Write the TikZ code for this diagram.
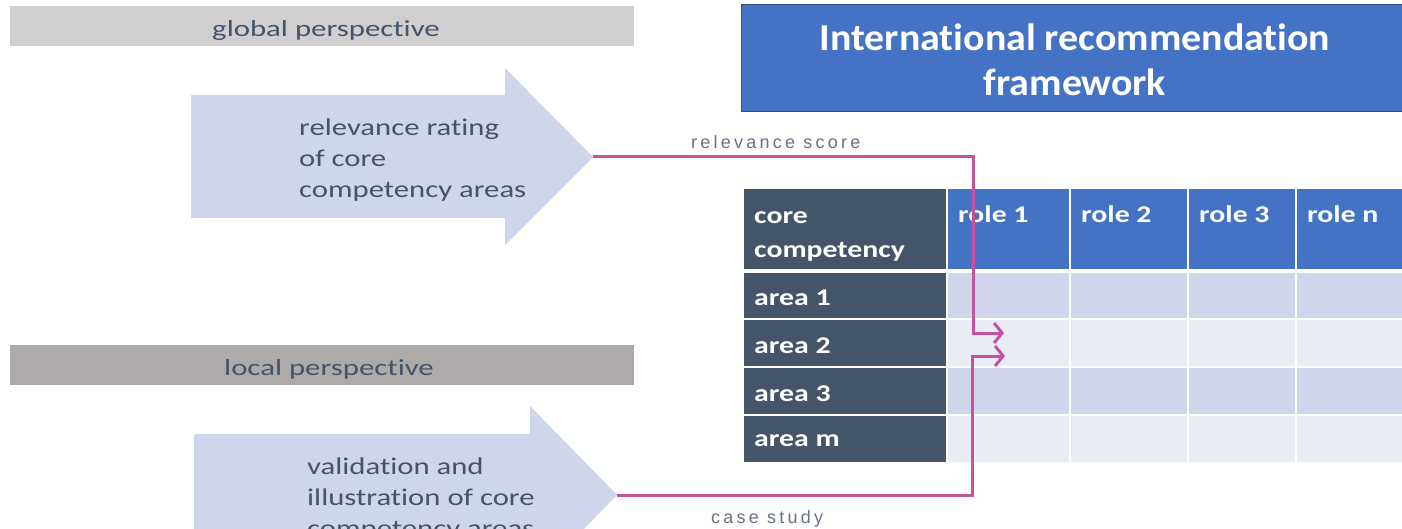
\documentclass[tikz,border=0pt]{standalone}
\usepackage{fontspec}
\setmainfont[Ligatures=NoCommon]{Carlito}
\newfontfamily\barfont[FakeStretch=1.34,Ligatures=NoCommon]{Carlito}
\newfontfamily\arrfont[FakeStretch=1.28,Ligatures=NoCommon]{Carlito}
\newfontfamily\tabfont[FakeStretch=1.24,Ligatures=NoCommon]{Carlito}
\newfontfamily\ttlfont[FakeStretch=1.05,Ligatures=NoCommon]{Carlito}
\newfontfamily\lblfont[LetterSpace=18]{Liberation Sans}
\usetikzlibrary{arrows.meta}
\definecolor{barA}{HTML}{D0CECE}
\definecolor{barB}{HTML}{AEAAAA}
\definecolor{txtdark}{HTML}{44546A}
\definecolor{arrowfill}{HTML}{CFD5EA}
\definecolor{titleblue}{HTML}{4472C4}
\definecolor{titleedge}{HTML}{2F528F}
\definecolor{darkcol}{HTML}{44546A}
\definecolor{rowA}{HTML}{CFD5EA}
\definecolor{rowB}{HTML}{E9EBF5}
\definecolor{conncol}{HTML}{C4529E}
\definecolor{lblcol}{HTML}{6A7182}
\tikzset{
  persbar/.style={minimum width=624pt, minimum height=40pt, inner sep=0pt},
  bartext/.style={inner sep=0pt, text=txtdark, font=\barfont\fontsize{23}{28}\selectfont},
  arrowtext/.style={anchor=north west, align=left, inner sep=0pt, text=txtdark,
    font=\arrfont\fontsize{24}{31}\selectfont},
  cell/.style={draw=white, line width=2pt, inner sep=0pt, anchor=north west},
  celltext/.style={anchor=west, align=left, inner sep=0pt, text=white,
    font=\tabfont\bfseries\fontsize{24}{34}\selectfont},
  conn/.style={draw=conncol, line width=3pt},
  connlbl/.style={anchor=west, inner sep=0pt, text=lblcol, font=\lblfont\fontsize{18}{21}\selectfont},
  arrowshape/.style={fill=arrowfill, draw=none}
}
\begin{document}
\begin{tikzpicture}[x=1pt,y=-1pt]
\clip (0,0) rectangle (1402,529);
\fill[white] (0,0) rectangle (1402,529);

% perspective bars
\node[persbar, fill=barA] (glob) at (322,26) {};
\node[bartext] (globtxt) at (326,30) {global perspective};
\node[persbar, fill=barB] (loc) at (322,365) {};
\node[bartext] (loctxt) at (329,369) {local perspective};

% big arrows
\path[arrowshape] (191,95) -- (505,95) -- (505,68) -- (593,157) -- (505,245) -- (505,218) -- (191,218) -- cycle;
\coordinate (tip1) at (593,157);
\node[arrowtext] (a1txt) at (299,119) {relevance rating\\of core\\competency areas};

\path[arrowshape] (194,434) -- (530,434) -- (530,406) -- (617,495) -- (530,584) -- (530,556) -- (194,556) -- cycle;
\coordinate (tip2) at (617,495);
\node[arrowtext] (a2txt) at (307,458) {validation and\\illustration of core\\competency areas};

% title box
\node[fill=titleblue, draw=titleedge, line width=1.2pt, anchor=north west, minimum width=664pt,
  minimum height=107pt, inner sep=0pt] (title) at (741,4) {};
\node[text=white, align=center, inner sep=0pt, font=\ttlfont\bfseries\fontsize{38}{45}\selectfont]
  (titletxt) at (1075,60) {International recommendation\\framework};

% table cells
\node[cell, fill=darkcol, minimum width=204pt, minimum height=82pt] (h0) at (742,187) {};
\node[cell, fill=titleblue, minimum width=123pt, minimum height=82pt] (h1) at (946,187) {};
\node[cell, fill=titleblue, minimum width=118pt, minimum height=82pt] (h2) at (1069,187) {};
\node[cell, fill=titleblue, minimum width=108pt, minimum height=82pt] (h3) at (1187,187) {};
\node[cell, fill=titleblue, minimum width=109pt, minimum height=82pt] (h4) at (1295,187) {};

\foreach \r/\y/\h/\col in {1/271/47/rowA, 2/318/48/rowB, 3/366/48/rowA, 4/414/48/rowB} {
  \node[cell, fill=darkcol, minimum width=204pt, minimum height=\h pt] (r\r c0) at (742,\y) {};
  \node[cell, fill=\col, minimum width=123pt, minimum height=\h pt] (r\r c1) at (946,\y) {};
  \node[cell, fill=\col, minimum width=118pt, minimum height=\h pt] (r\r c2) at (1069,\y) {};
  \node[cell, fill=\col, minimum width=108pt, minimum height=\h pt] (r\r c3) at (1187,\y) {};
  \node[cell, fill=\col, minimum width=109pt, minimum height=\h pt] (r\r c4) at (1295,\y) {};
}

% table texts
\node[celltext] (th0) at (754,236) {core\\competency};
\node[celltext] (th1) at (958,214) {role 1};
\node[celltext] (th2) at (1081,214) {role 2};
\node[celltext] (th3) at (1199,214) {role 3};
\node[celltext] (th4) at (1307,214) {role n};
\node[celltext] (tr1) at (754,298) {area 1};
\node[celltext] (tr2) at (754,346) {area 2};
\node[celltext] (tr3) at (754,394) {area 3};
\node[celltext] (tr4) at (754,441) {area m};

% connectors
\coordinate (e1) at (1004,333);
\coordinate (e2) at (1005,356);
\draw[conn, -{Straight Barb[length=8pt,width=20pt,line width=3pt]}] (tip1) -| (973,333) -- (e1);
\draw[conn, -{Straight Barb[length=8pt,width=20pt,line width=3pt]}] (tip2) -| (972,356) -- (e2);
\node[connlbl] (lbl1) at (691,142) {relevance score};
\node[connlbl] (lbl2) at (711,519) {case study};
\end{tikzpicture}
\end{document}
